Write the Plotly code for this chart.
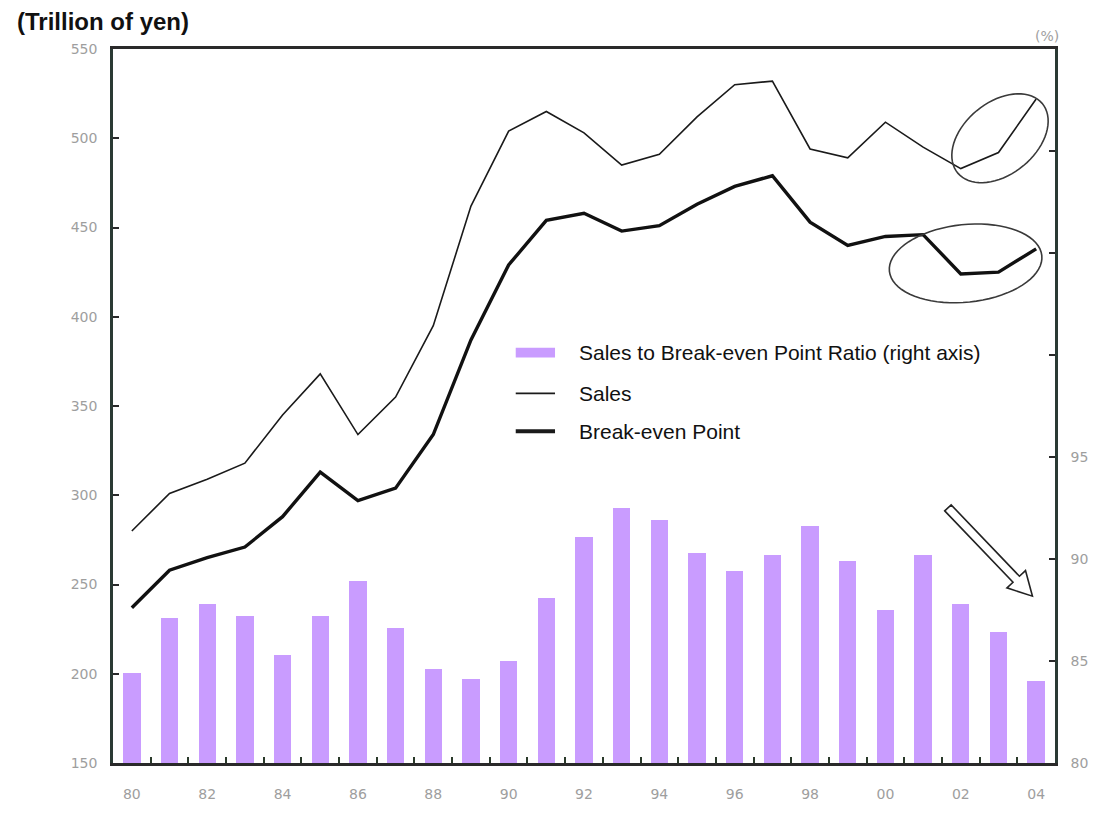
import numpy as np
import plotly.graph_objects as go

years = list(range(1980, 2005))
year_labels = ["80", "82", "84", "86", "88", "90", "92", "94", "96", "98", "00", "02", "04"]

# trillion yen (left axis)
sales = [280, 301, 309, 318, 345, 368, 334, 355, 395, 462, 504, 515, 503,
         485, 491, 512, 530, 532, 494, 489, 509, 495, 483, 492, 522]
break_even = [237, 258, 265, 271, 288, 313, 297, 304, 334, 387, 429, 454, 458,
              448, 451, 463, 473, 479, 453, 440, 445, 446, 424, 425, 438]
# % (right axis)
ratio = [84.4, 87.1, 87.8, 87.2, 85.3, 87.2, 88.9, 86.6, 84.6, 84.1, 85.0, 88.1, 91.1,
         92.5, 91.9, 90.3, 89.4, 90.2, 91.6, 89.9, 87.5, 90.2, 87.8, 86.4, 84.0]

# the page keeps the browser's 8px body margin on every side, so fit inside it
OFF = 8
W, H = 1108 - 2 * OFF, 822 - 2 * OFF
L, R, T, B = 113, 1072, 49, 785          # plot box in page pixels
X0, X1 = 1979.5, 2004.5
Y0, Y1 = 150, 550


def px_to_data(px, py):
    x = X0 + (np.asarray(px) - L) * (X1 - X0) / (R - L)
    y = Y0 + (B - np.asarray(py)) * (Y1 - Y0) / (B - T)
    return x, y


def path_from_px(px, py, close=True):
    xs, ys = px_to_data(px, py)
    d = "M" + " L".join(f"{x:.4f},{y:.3f}" for x, y in zip(xs, ys))
    return d + (" Z" if close else "")


def ellipse_path(cx, cy, a, b, deg):
    t = np.linspace(0, 2 * np.pi, 73)
    th = np.radians(deg)
    ex = cx + a * np.cos(th) * np.cos(t) - b * np.sin(th) * np.sin(t)
    ey = cy - (a * np.sin(th) * np.cos(t) + b * np.cos(th) * np.sin(t))
    return path_from_px(ex, ey)


def arrow_path(tx, ty, hx, hy, w=4.5, hw=13, hl=24):
    u = np.array([hx - tx, hy - ty], dtype=float)
    u /= np.linalg.norm(u)
    n = np.array([-u[1], u[0]])
    t, p = np.array([tx, ty]), np.array([hx, hy])
    s = p - u * hl
    pts = [t + n * w, s + n * w, s + n * hw, p, s - n * hw, s - n * w, t - n * w]
    return path_from_px([q[0] for q in pts], [q[1] for q in pts])


def px_paper(px, py):
    return (px - L) / (R - L), 1 - (py - T) / (B - T)


fig = go.Figure()
fig.add_trace(go.Bar(
    x=years, y=ratio, yaxis="y2", width=0.46,
    marker=dict(color="#c99cff", line=dict(width=0)),
    name="Sales to Break-even Point Ratio (right axis)", showlegend=False,
))
fig.add_trace(go.Scatter(
    x=years, y=sales, mode="lines", line=dict(color="#1a1a1a", width=1.6),
    name="Sales", showlegend=False,
))
fig.add_trace(go.Scatter(
    x=years, y=break_even, mode="lines", line=dict(color="#111111", width=3.4),
    name="Break-even Point", showlegend=False,
))

shapes = [
    dict(type="path", path=ellipse_path(1016, 141, 56, 37, 40), xref="x", yref="y",
         line=dict(color="#3a3a3a", width=1.6)),
    dict(type="path", path=ellipse_path(981, 270, 78, 40, 6), xref="x", yref="y",
         line=dict(color="#3a3a3a", width=1.6)),
    dict(type="path", path=arrow_path(963, 522, 1049, 613), xref="x", yref="y",
         line=dict(color="#222", width=1.6), fillcolor="white"),
]

# legend drawn by hand, like the original
leg_rows = [
    ("Sales to Break-even Point Ratio (right axis)", 362, "bar"),
    ("Sales", 404, "thin"),
    ("Break-even Point", 443, "thick"),
]
annotations = []
for text, py, kind in leg_rows:
    x0p, yy = px_paper(523, py)
    x1p, _ = px_paper(563, py)
    if kind == "bar":
        shapes.append(dict(type="rect", xref="paper", yref="paper", x0=x0p, x1=x1p,
                           y0=yy - 5 / (B - T), y1=yy + 5 / (B - T),
                           fillcolor="#c99cff", line=dict(width=0)))
    else:
        shapes.append(dict(type="line", xref="paper", yref="paper", x0=x0p, x1=x1p,
                           y0=yy, y1=yy,
                           line=dict(color="#1a1a1a", width=1.8 if kind == "thin" else 4)))
    tx, _ = px_paper(585, py)
    annotations.append(dict(text=text, xref="paper", yref="paper",
                            x=tx, y=yy, xanchor="left", yanchor="middle",
                            showarrow=False, font=dict(size=21, color="#111",
                                                       family="Liberation Sans, Arial")))

tx, ty = px_paper(13, 21)
annotations.append(dict(text="<b>(Trillion of yen)</b>", xref="paper", yref="paper",
                        x=tx, y=ty, xanchor="left", yanchor="middle", showarrow=False,
                        font=dict(size=24, color="#111", family="Liberation Sans, Arial")))
tx, ty = px_paper(1050, 36)
annotations.append(dict(text="(%)", xref="paper", yref="paper",
                        x=tx, y=ty, xanchor="left", yanchor="middle", showarrow=False,
                        font=dict(size=14, color="#a0a0a0", family="DejaVu Sans")))

tick_font = dict(size=14, color="#9e9e9e", family="DejaVu Sans")
fig.update_layout(
    width=W, height=H,
    margin=dict(l=L - OFF, r=W + OFF - R, t=T - OFF, b=H + OFF - B, pad=0),
    paper_bgcolor="white", plot_bgcolor="white",
    showlegend=False,
    bargap=0,
    xaxis=dict(
        range=[X0, X1], showgrid=False, zeroline=False,
        tickvals=years[::2], ticktext=year_labels, ticks="",
        tickfont=tick_font, ticklabelstandoff=16,
        showline=True, linecolor="#2a2a2a", linewidth=2.5, mirror=True,
        minor=dict(tickvals=[y + 0.5 for y in years[:-1]], ticks="inside",
                   ticklen=6, tickwidth=2, tickcolor="#2a3a2a"),
    ),
    yaxis=dict(
        range=[Y0, Y1], tickvals=[150, 200, 250, 300, 350, 400, 450, 500, 550],
        showgrid=False, zeroline=False, ticks="inside", ticklen=6, tickwidth=2,
        tickcolor="#2a2a2a", tickfont=tick_font, ticklabelstandoff=10,
        showline=True, linecolor="#2a3a34", linewidth=2.5,
    ),
    yaxis2=dict(
        range=[80, 115], overlaying="y", side="right",
        tickvals=[80, 85, 90, 95, 100, 105, 110],
        ticktext=["80", "85", "90", "95", "", "", ""],
        showgrid=False, zeroline=False, ticks="inside", ticklen=6, tickwidth=2,
        tickcolor="#2a2a2a", tickfont=tick_font, ticklabelstandoff=10,
        showline=True, linecolor="#2a3a34", linewidth=2.5,
    ),
    shapes=shapes,
    annotations=annotations,
)

fig.write_html("out.html")
